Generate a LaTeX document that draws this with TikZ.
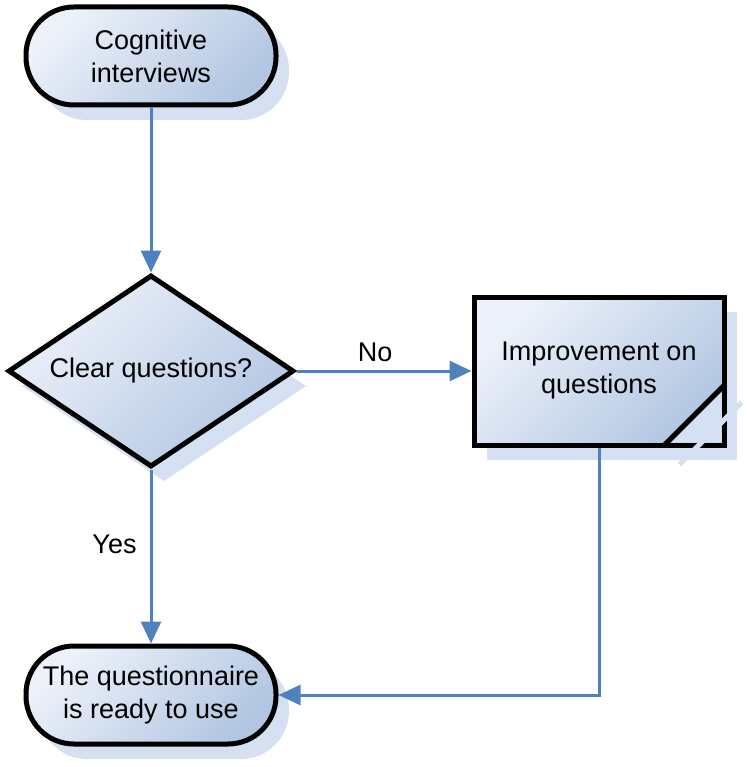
\documentclass[tikz,border=0pt]{standalone}
\usepackage{fontspec}
\setmainfont{Liberation Sans}
\usetikzlibrary{shapes.geometric,shadows,arrows.meta}

\definecolor{arrowblue}{HTML}{4F81BD}
\definecolor{fillTop}{HTML}{EDF2FA}
\definecolor{fillBot}{HTML}{B2C6E2}
\definecolor{shadowblue}{HTML}{D5E1F2}

\tikzset{
  box/.style={draw=black, line width=5pt, top color=fillTop, bottom color=fillBot,
    shading angle=45, inner sep=0pt, align=center,
    general shadow={shadow xshift=13pt, shadow yshift=-15pt, fill=shadowblue},
    font=\fontsize{27}{33}\selectfont},
  terminal/.style={box, rectangle, rounded corners=48pt, minimum width=250pt, minimum height=98pt},
  decision/.style={box, diamond, aspect=1.49, minimum width=286pt, minimum height=192pt},
  process/.style={box, rectangle, minimum width=250pt, minimum height=148pt},
  flow/.style={draw=arrowblue, line width=3pt, -{Triangle[length=22pt,width=20pt]}},
  lbl/.style={font=\fontsize{27}{33}\selectfont, inner sep=0pt}
}

\begin{document}
\begin{tikzpicture}[x=1pt, y=-1pt]
    \useasboundingbox (0,0) rectangle (746,767);

    % the four steps
    \node[terminal] (cog) at (151,56) {Cognitive\\interviews};
    \node[decision] (clear) at (151,371) {Clear questions?};
    \node[process] (impr) at (599,371) {Improvement on\\questions};
    \node[terminal] (ready) at (151,695) {The questionnaire\\is ready to use};

    % folded corner of the process box
    \draw[shadowblue, line width=5pt] ([xshift=-47pt,yshift=-17pt]impr.south east) -- ([xshift=15pt,yshift=45pt]impr.south east);
    \fill[shadowblue] ([xshift=-62pt,yshift=5pt]impr.south east) -- ([xshift=-5pt,yshift=5pt]impr.south east)
        -- ([xshift=-5pt,yshift=62pt]impr.south east) -- cycle;
    \draw[black, line width=5pt] ([xshift=-62pt,yshift=2.5pt]impr.south east) -- ([xshift=-2.5pt,yshift=62pt]impr.south east);

    % connectors
    \draw[flow] (cog.south) -- (clear.north);
    \draw[flow] (clear.east) -- node[lbl, above=8pt, pos=0.45] {No} (impr.west);
    \draw[flow] (clear.south) -- node[lbl, left=13pt, pos=0.43] {Yes} (ready.north);
    \draw[flow] (impr.south) |- (ready.east);
\end{tikzpicture}
\end{document}
